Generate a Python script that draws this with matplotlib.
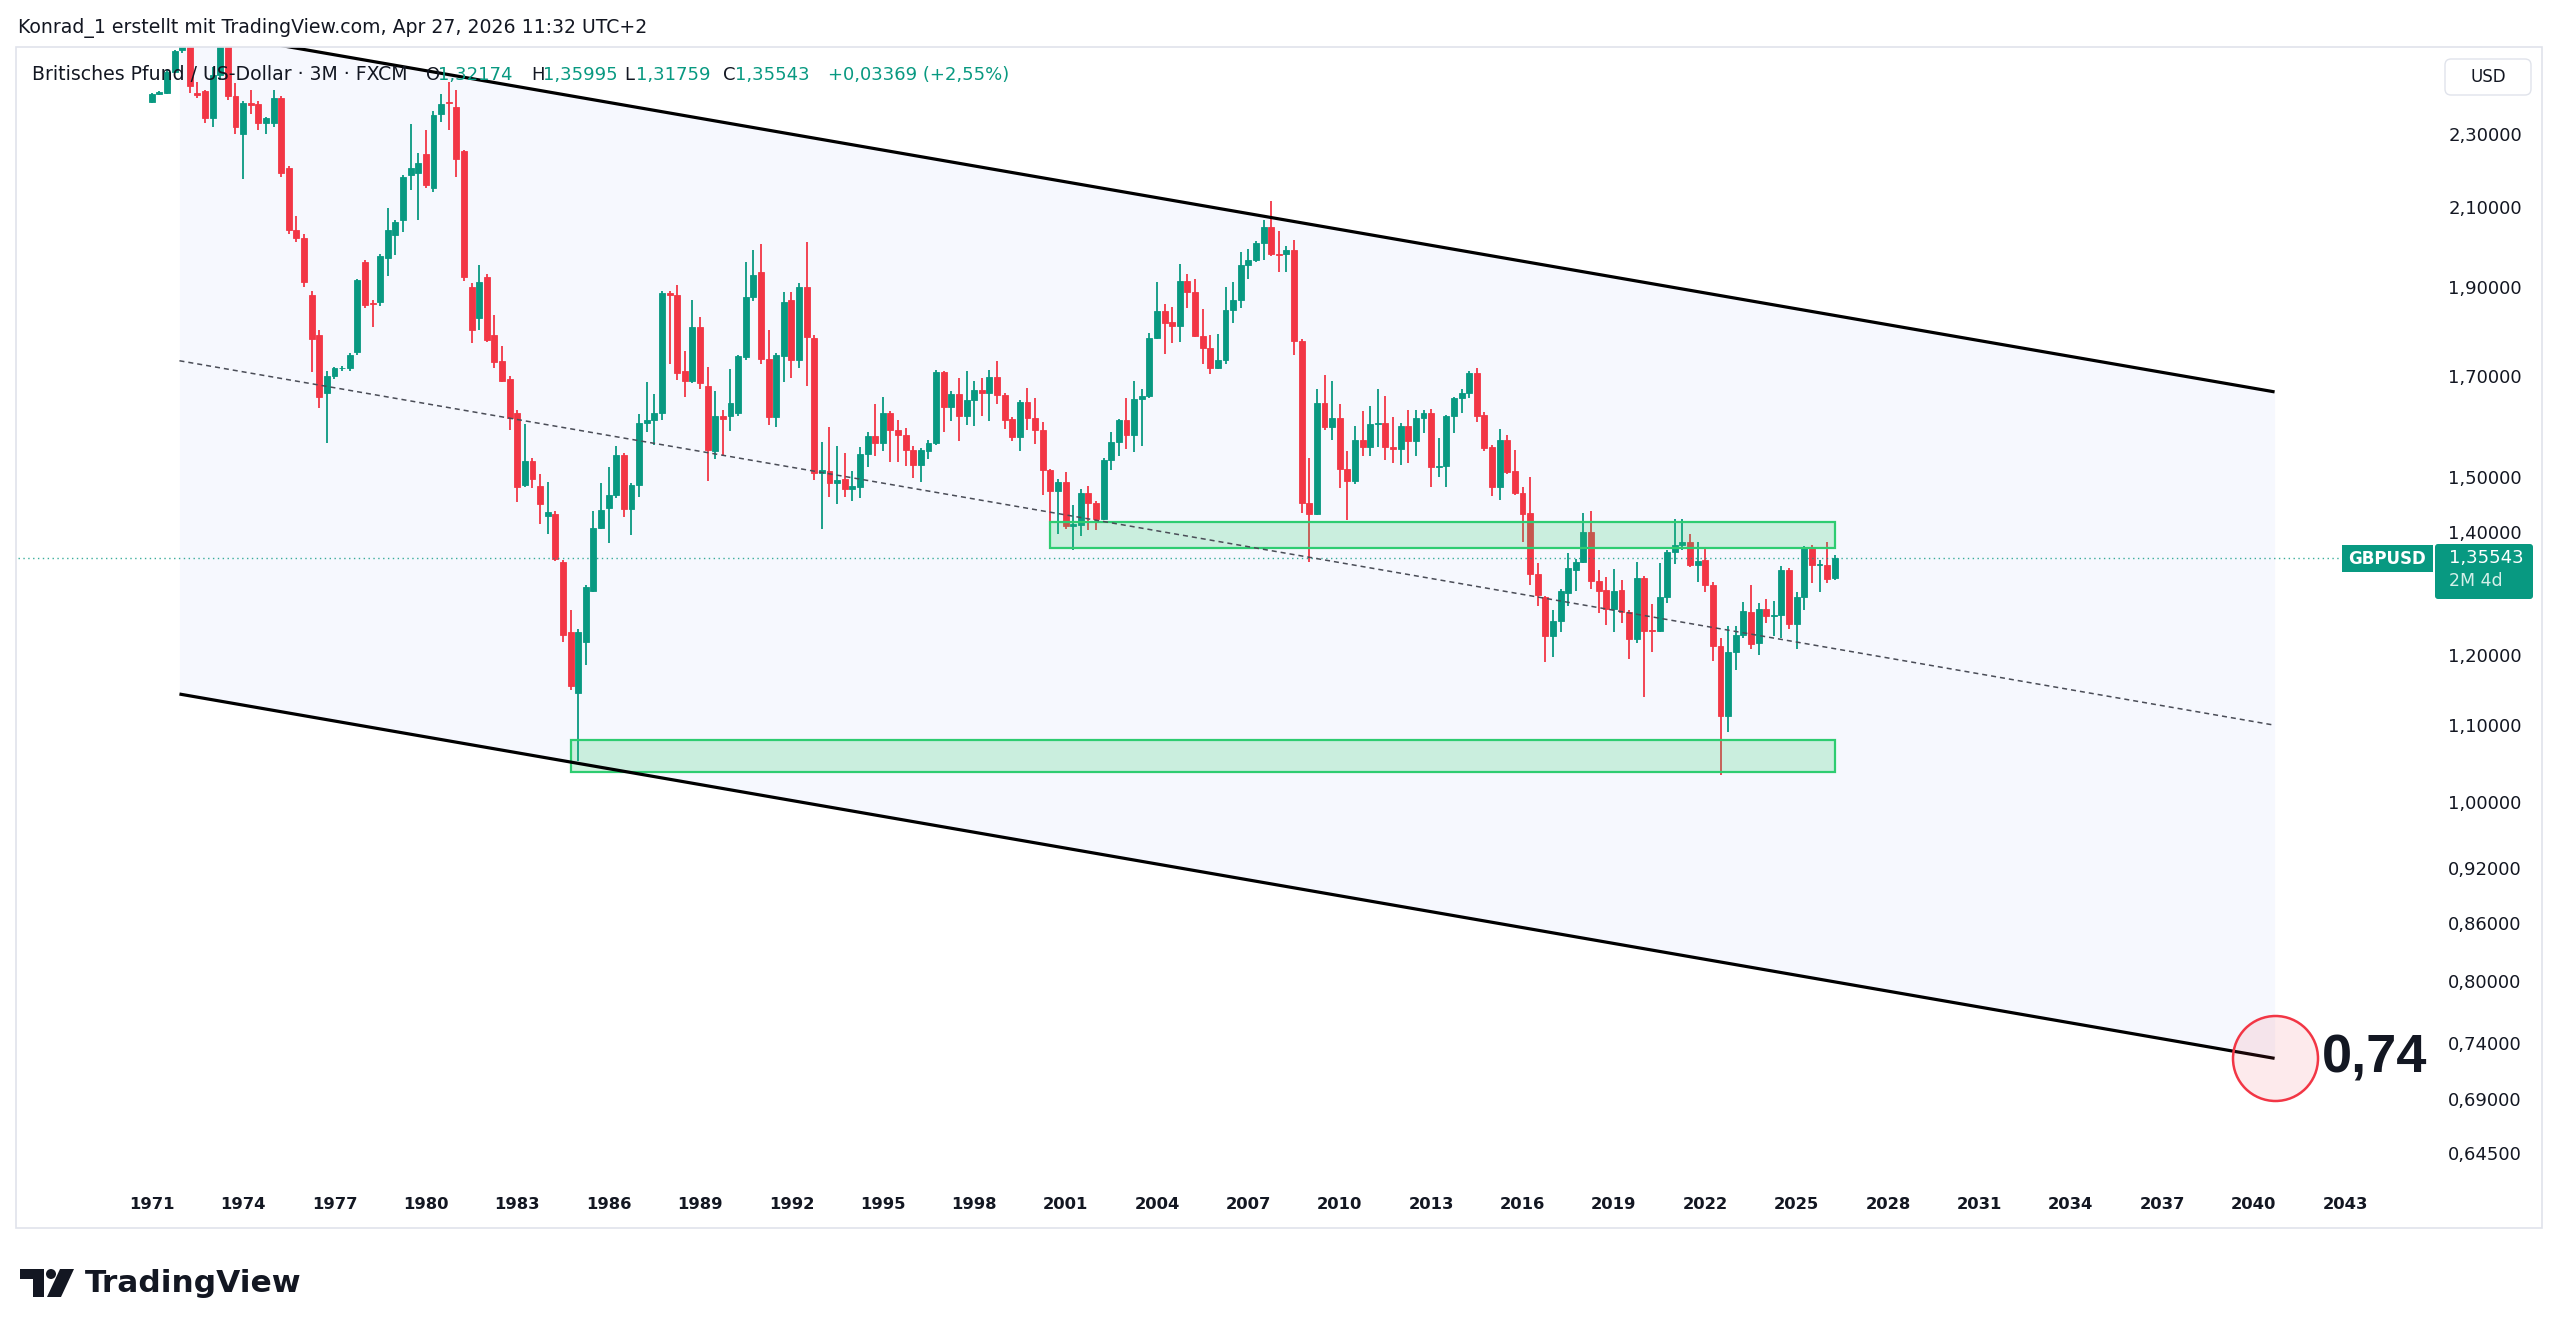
import numpy as np
import matplotlib.pyplot as plt
from matplotlib.patches import Rectangle, FancyBboxPatch, Polygon, Circle
from matplotlib.transforms import IdentityTransform
from matplotlib.ticker import NullLocator

plt.rcParams['font.family'] = ['DejaVu Sans']

# GBPUSD quarterly candles, 1971 Q1 .. 2026 Q2
first_year = 1971
opens = [
    2.393, 2.418, 2.420, 2.485, 2.552, 2.610, 2.420, 2.425,
    2.345, 2.475, 2.580, 2.410, 2.300, 2.390, 2.387, 2.330,
    2.330, 2.405, 2.205, 2.040, 2.020, 1.880, 1.790, 1.665,
    1.700, 1.717, 1.717, 1.752, 1.960, 1.862, 1.864, 1.970,
    2.028, 2.066, 2.185, 2.190, 2.243, 2.150, 2.357, 2.393,
    2.378, 2.250, 1.900, 1.827, 1.924, 1.790, 1.732, 1.695,
    1.623, 1.485, 1.530, 1.482, 1.428, 1.432, 1.349, 1.235,
    1.145, 1.220, 1.300, 1.407, 1.443, 1.466, 1.540, 1.440,
    1.484, 1.603, 1.610, 1.623, 1.886, 1.880, 1.710, 1.690,
    1.808, 1.680, 1.548, 1.617, 1.617, 1.623, 1.742, 1.877,
    1.937, 1.737, 1.615, 1.743, 1.870, 1.734, 1.900, 1.784,
    1.507, 1.510, 1.488, 1.495, 1.477, 1.480, 1.543, 1.578,
    1.564, 1.624, 1.590, 1.580, 1.550, 1.521, 1.549, 1.564,
    1.709, 1.636, 1.662, 1.617, 1.650, 1.671, 1.664, 1.699,
    1.660, 1.611, 1.575, 1.646, 1.613, 1.589, 1.513, 1.474,
    1.490, 1.410, 1.412, 1.470, 1.451, 1.422, 1.532, 1.566,
    1.610, 1.579, 1.653, 1.658, 1.783, 1.843, 1.818, 1.810,
    1.915, 1.888, 1.787, 1.760, 1.718, 1.735, 1.846, 1.870,
    1.954, 1.966, 2.008, 2.047, 1.980, 1.980, 1.990, 1.777,
    1.451, 1.432, 1.644, 1.595, 1.614, 1.515, 1.492, 1.570,
    1.557, 1.601, 1.604, 1.557, 1.553, 1.598, 1.568, 1.614,
    1.624, 1.517, 1.520, 1.618, 1.655, 1.664, 1.707, 1.620,
    1.556, 1.480, 1.570, 1.510, 1.470, 1.433, 1.328, 1.290,
    1.230, 1.253, 1.297, 1.335, 1.349, 1.400, 1.316, 1.302,
    1.271, 1.302, 1.267, 1.225, 1.322, 1.239, 1.237, 1.290,
    1.366, 1.377, 1.382, 1.344, 1.351, 1.311, 1.214, 1.113,
    1.205, 1.231, 1.267, 1.218, 1.271, 1.260, 1.262, 1.335,
    1.248, 1.290, 1.372, 1.343, 1.344, 1.32174,
]
highs = [
    2.420, 2.425, 2.490, 2.552, 2.650, 2.650, 2.455, 2.430,
    2.500, 2.600, 2.590, 2.450, 2.395, 2.430, 2.395, 2.350,
    2.430, 2.410, 2.210, 2.076, 2.030, 1.890, 1.800, 1.710,
    1.720, 1.722, 1.750, 1.920, 1.965, 1.870, 1.980, 2.097,
    2.065, 2.185, 2.328, 2.245, 2.310, 2.366, 2.417, 2.455,
    2.430, 2.255, 1.910, 1.952, 1.930, 1.835, 1.765, 1.700,
    1.630, 1.602, 1.535, 1.505, 1.490, 1.436, 1.352, 1.270,
    1.240, 1.310, 1.436, 1.488, 1.518, 1.558, 1.545, 1.488,
    1.622, 1.688, 1.663, 1.890, 1.890, 1.905, 1.754, 1.870,
    1.830, 1.720, 1.669, 1.630, 1.715, 1.745, 1.960, 1.990,
    2.005, 1.800, 1.750, 1.888, 1.888, 1.910, 2.010, 1.790,
    1.566, 1.596, 1.559, 1.545, 1.510, 1.557, 1.585, 1.642,
    1.657, 1.628, 1.610, 1.593, 1.558, 1.555, 1.570, 1.713,
    1.712, 1.668, 1.696, 1.711, 1.689, 1.697, 1.713, 1.733,
    1.665, 1.615, 1.650, 1.676, 1.655, 1.605, 1.515, 1.496,
    1.508, 1.447, 1.476, 1.482, 1.455, 1.535, 1.585, 1.612,
    1.655, 1.689, 1.674, 1.794, 1.913, 1.859, 1.853, 1.956,
    1.931, 1.920, 1.848, 1.789, 1.792, 1.900, 1.913, 1.985,
    1.992, 2.012, 2.066, 2.116, 2.037, 2.000, 2.015, 1.780,
    1.535, 1.672, 1.702, 1.689, 1.643, 1.549, 1.598, 1.628,
    1.638, 1.672, 1.658, 1.615, 1.603, 1.630, 1.630, 1.630,
    1.631, 1.573, 1.620, 1.657, 1.674, 1.711, 1.717, 1.625,
    1.560, 1.591, 1.579, 1.550, 1.481, 1.500, 1.346, 1.292,
    1.270, 1.303, 1.363, 1.354, 1.433, 1.436, 1.335, 1.324,
    1.336, 1.318, 1.270, 1.349, 1.325, 1.279, 1.346, 1.368,
    1.422, 1.422, 1.396, 1.382, 1.373, 1.315, 1.226, 1.245,
    1.245, 1.282, 1.311, 1.281, 1.287, 1.284, 1.342, 1.339,
    1.299, 1.375, 1.377, 1.351, 1.383, 1.35995,
]
lows = [
    2.390, 2.415, 2.418, 2.480, 2.545, 2.420, 2.405, 2.330,
    2.320, 2.460, 2.400, 2.300, 2.175, 2.357, 2.310, 2.300,
    2.320, 2.180, 2.030, 2.010, 1.900, 1.708, 1.634, 1.564,
    1.695, 1.712, 1.712, 1.745, 1.850, 1.807, 1.855, 1.927,
    1.977, 2.035, 2.144, 2.066, 2.150, 2.138, 2.335, 2.310,
    2.180, 1.915, 1.772, 1.800, 1.775, 1.717, 1.688, 1.590,
    1.453, 1.480, 1.479, 1.414, 1.397, 1.350, 1.220, 1.150,
    1.052, 1.186, 1.298, 1.405, 1.380, 1.460, 1.427, 1.394,
    1.462, 1.585, 1.560, 1.610, 1.725, 1.692, 1.657, 1.685,
    1.673, 1.491, 1.533, 1.538, 1.587, 1.618, 1.735, 1.866,
    1.725, 1.600, 1.596, 1.688, 1.697, 1.718, 1.680, 1.493,
    1.405, 1.463, 1.450, 1.463, 1.454, 1.461, 1.518, 1.539,
    1.548, 1.528, 1.528, 1.520, 1.497, 1.489, 1.534, 1.560,
    1.585, 1.608, 1.567, 1.600, 1.598, 1.617, 1.607, 1.643,
    1.592, 1.567, 1.548, 1.590, 1.563, 1.465, 1.395, 1.396,
    1.405, 1.369, 1.392, 1.403, 1.403, 1.420, 1.513, 1.539,
    1.552, 1.546, 1.559, 1.655, 1.780, 1.747, 1.771, 1.773,
    1.850, 1.785, 1.727, 1.704, 1.715, 1.725, 1.817, 1.852,
    1.918, 1.959, 1.965, 1.975, 1.935, 1.937, 1.746, 1.434,
    1.349, 1.430, 1.590, 1.570, 1.478, 1.421, 1.487, 1.539,
    1.539, 1.557, 1.532, 1.525, 1.521, 1.525, 1.538, 1.583,
    1.481, 1.500, 1.480, 1.583, 1.623, 1.654, 1.605, 1.548,
    1.464, 1.456, 1.505, 1.465, 1.382, 1.311, 1.277, 1.190,
    1.197, 1.235, 1.276, 1.301, 1.346, 1.303, 1.265, 1.247,
    1.236, 1.249, 1.194, 1.219, 1.140, 1.205, 1.235, 1.281,
    1.345, 1.368, 1.340, 1.315, 1.298, 1.191, 1.034, 1.091,
    1.178, 1.226, 1.210, 1.200, 1.250, 1.229, 1.226, 1.240,
    1.209, 1.270, 1.313, 1.299, 1.314, 1.31759,
]
closes = [
    2.417, 2.422, 2.485, 2.550, 2.610, 2.440, 2.415, 2.345,
    2.475, 2.580, 2.410, 2.320, 2.390, 2.385, 2.330, 2.345,
    2.405, 2.190, 2.040, 2.020, 1.912, 1.780, 1.657, 1.700,
    1.717, 1.718, 1.745, 1.917, 1.857, 1.860, 1.975, 2.040,
    2.060, 2.180, 2.205, 2.218, 2.158, 2.355, 2.387, 2.390,
    2.230, 1.925, 1.800, 1.912, 1.778, 1.731, 1.690, 1.614,
    1.480, 1.530, 1.495, 1.449, 1.435, 1.353, 1.231, 1.155,
    1.235, 1.307, 1.406, 1.438, 1.465, 1.540, 1.440, 1.484,
    1.603, 1.610, 1.623, 1.886, 1.880, 1.707, 1.690, 1.808,
    1.686, 1.550, 1.617, 1.612, 1.645, 1.743, 1.877, 1.928,
    1.737, 1.615, 1.745, 1.865, 1.734, 1.900, 1.785, 1.507,
    1.512, 1.488, 1.494, 1.477, 1.482, 1.543, 1.578, 1.564,
    1.624, 1.589, 1.580, 1.550, 1.521, 1.550, 1.564, 1.709,
    1.636, 1.662, 1.617, 1.650, 1.671, 1.664, 1.699, 1.660,
    1.610, 1.575, 1.646, 1.613, 1.589, 1.513, 1.474, 1.490,
    1.410, 1.413, 1.470, 1.451, 1.422, 1.532, 1.566, 1.610,
    1.579, 1.653, 1.658, 1.783, 1.843, 1.817, 1.810, 1.915,
    1.888, 1.787, 1.760, 1.718, 1.735, 1.846, 1.870, 1.954,
    1.966, 2.007, 2.047, 1.980, 1.978, 1.990, 1.777, 1.451,
    1.432, 1.644, 1.595, 1.614, 1.515, 1.492, 1.570, 1.557,
    1.601, 1.604, 1.557, 1.553, 1.598, 1.568, 1.614, 1.624,
    1.517, 1.520, 1.618, 1.655, 1.664, 1.707, 1.618, 1.554,
    1.480, 1.570, 1.509, 1.470, 1.432, 1.328, 1.294, 1.230,
    1.253, 1.300, 1.338, 1.349, 1.400, 1.317, 1.300, 1.271,
    1.300, 1.267, 1.225, 1.322, 1.237, 1.237, 1.290, 1.366,
    1.377, 1.382, 1.344, 1.350, 1.311, 1.214, 1.113, 1.205,
    1.231, 1.268, 1.217, 1.271, 1.260, 1.262, 1.335, 1.248,
    1.290, 1.372, 1.343, 1.345, 1.320, 1.35543,
]

# parallel channel (start, end)
chan_x = [1971.91, 2040.69]
chan_upper = [2.625, 1.667]
chan_mid = [1.733, 1.100]
chan_lower = [1.1436, 0.726]

# support/resistance zones: x0, x1, low, high
zone_top = [2000.49, 2026.26, 1.372, 1.418]
zone_bottom = [1984.75, 2026.26, 1.0376, 1.0799]

last_price = 1.35543
target_label = "0,74"

price_ticks = [2.30, 2.10, 1.90, 1.70, 1.50, 1.40, 1.20, 1.10, 1.00,
               0.92, 0.86, 0.80, 0.74, 0.69, 0.645]
year_ticks = list(range(1971, 2044, 3))

GREEN = '#089981'
RED = '#f23645'
TXT = '#131722'

W, H = 2560, 1336
fig = plt.figure(figsize=(W / 100, H / 100), dpi=100)
fig.patch.set_facecolor('white')
px = IdentityTransform()


def fx(x):
    return x / W


def fy(y):
    return 1 - y / H


ax = fig.add_axes([fx(18), fy(1180), fx(2433) - fx(18), fy(47) - fy(1180)])
ax.set_yscale('log')
ax.set_ylim(0.6238, 2.563)
ax.set_xlim(1966.61, 2045.89)
for s in ax.spines.values():
    s.set_visible(False)

# channel
ax.fill_between(chan_x, chan_lower, chan_upper, color='#f6f8fe', lw=0, zorder=0)
ax.plot(chan_x, chan_upper, color='black', lw=2.3, zorder=4, solid_capstyle='butt')
ax.plot(chan_x, chan_lower, color='black', lw=2.3, zorder=4, solid_capstyle='butt')
ax.plot(chan_x, chan_mid, color='#4a4d57', lw=1.1, dashes=(3.3, 2.6), zorder=4)

# candles
o = np.array(opens)
h = np.array(highs)
l = np.array(lows)
c = np.array(closes)
x = first_year + 0.25 * np.arange(len(o))
col = np.where(c >= o, GREEN, RED)
ax.vlines(x, l, h, colors=col, lw=1.3, zorder=2)
ax.bar(x, np.abs(c - o), bottom=np.minimum(o, c), width=0.195, color=col,
       edgecolor=col, linewidth=0.6, zorder=2.1)

# zones
for z in (zone_top, zone_bottom):
    ax.add_patch(Rectangle((z[0], z[2]), z[1] - z[0], z[3] - z[2],
                           facecolor=(0.18, 0.8, 0.44, 0.22), edgecolor='#2ecc71',
                           lw=1.6, zorder=3.5))

# last price line
ax.axhline(last_price, color=GREEN, lw=1.0, ls=(0, (1, 2.5)), alpha=0.8, zorder=3)

# target circle + label
ax.scatter([chan_x[1]], [chan_lower[1]], s=3745, facecolor=(0.949, 0.212, 0.271, 0.1),
           edgecolor=RED, lw=1.8, zorder=5, clip_on=False)
ax.annotate(target_label, xy=(chan_x[1], chan_lower[1]), xytext=(34, 0),
            textcoords='offset points', ha='left', va='center', fontsize=39,
            fontweight='bold', family='Liberation Sans', color=TXT, zorder=6)

# axes ticks
ax.yaxis.tick_right()
ax.yaxis.set_minor_locator(NullLocator())
ax.set_yticks(price_ticks)
ax.set_yticklabels([f"{v:.5f}".replace('.', ',') for v in price_ticks])
ax.set_xticks(year_ticks)
ax.set_xticklabels([str(y) for y in year_ticks], fontweight='bold')
ax.tick_params(axis='y', length=0, pad=11, labelsize=13, labelcolor=TXT)
ax.tick_params(axis='x', length=0, pad=12, labelsize=11.8, labelcolor=TXT)

# frame
fig.patches.append(Rectangle((16, H - 1228), 2526, 1181, fill=False, edgecolor='#e0e3eb',
                             lw=1.2, transform=px, figure=fig))

# header texts
fig.text(18, H - 28, "Konrad_1 erstellt mit TradingView.com, Apr 27, 2026 11:32 UTC+2",
         transform=px, fontsize=13.6, color=TXT, va='center')
legend = [(32, "Britisches Pfund / US-Dollar · 3M · FXCM", TXT, 13.6),
          (426, "O", TXT, 13), (438, "1,32174", GREEN, 13),
          (531, "H", TXT, 13), (543, "1,35995", GREEN, 13),
          (624, "L", TXT, 13), (636, "1,31759", GREEN, 13),
          (723, "C", TXT, 13), (735, "1,35543", GREEN, 13),
          (828, "+0,03369 (+2,55%)", GREEN, 13)]
for lx, s, cc, fs in legend:
    fig.text(lx, H - 75, s, transform=px, fontsize=fs, color=cc, va='center', zorder=10)

# USD box
fig.patches.append(FancyBboxPatch((2445, H - 95), 86, 36, boxstyle='round,pad=0,rounding_size=6',
                                  facecolor='white', edgecolor='#e0e3eb', lw=1, transform=px, figure=fig))
fig.text(2488, H - 77, "USD", transform=px, fontsize=12, color=TXT, ha='center', va='center')

# price tags
fig.patches.append(Rectangle((2342, H - 572), 91, 27, facecolor=GREEN, edgecolor='none',
                             transform=px, figure=fig))
fig.text(2387, H - 558.5, "GBPUSD", transform=px, fontsize=12, color='white',
         ha='center', va='center', fontweight='bold')
fig.patches.append(FancyBboxPatch((2435, H - 599), 98, 55, boxstyle='round,pad=0,rounding_size=3',
                                  facecolor=GREEN, edgecolor='none', transform=px, figure=fig))
fig.text(2449, H - 558, "1,35543", transform=px, fontsize=13, color='white', va='center')
fig.text(2449, H - 581, "2M 4d", transform=px, fontsize=12.5, color='#d5f0ea', va='center')

# TradingView logo
fig.patches.append(Polygon([(20, H - 1269), (44, H - 1269), (44, H - 1297), (33, H - 1297),
                            (33, H - 1279), (20, H - 1279)], closed=True, facecolor=TXT,
                           edgecolor='none', transform=px, figure=fig))
fig.patches.append(Circle((51, H - 1274), 5, facecolor=TXT, edgecolor='none', transform=px, figure=fig))
fig.patches.append(Polygon([(60, H - 1269), (74, H - 1269), (61, H - 1297), (47, H - 1297)],
                           closed=True, facecolor=TXT, edgecolor='none', transform=px, figure=fig))
fig.text(85, H - 1292, "TradingView", transform=px, fontsize=22.5, fontweight='bold',
         color=TXT, va='baseline')

fig.savefig('out.png', dpi=100, facecolor='white')
